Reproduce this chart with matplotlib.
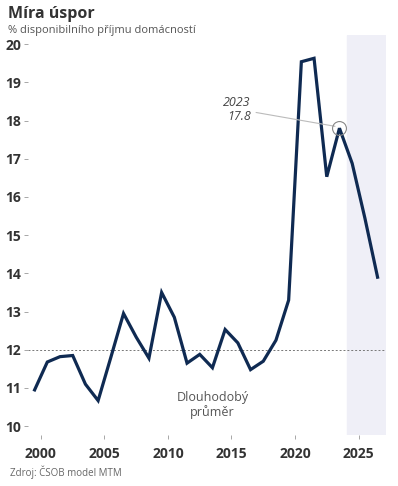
import matplotlib.pyplot as plt

plt.rcParams['font.family'] = ['Open Sans', 'DejaVu Sans']

# roční míra úspor domácností (% disponibilního příjmu)
roky = list(range(1999, 2027))
mira = [10.95, 11.68, 11.82, 11.85, 11.1, 10.67, 11.8, 12.95, 12.33, 11.78,
        13.5, 12.85, 11.65, 11.88, 11.53, 12.53, 12.18, 11.48, 11.7, 12.25,
        13.3, 19.54, 19.63, 16.53, 17.8, 16.88, 15.45, 13.9]
prumer = 12.0
prognoza_od, prognoza_do = 2024, 2027
yticks = [10, 11, 12, 13, 14, 15, 16, 17, 18, 19, 20]
xticks = [2000, 2005, 2010, 2015, 2020, 2025]

fig = plt.figure(figsize=(3.98, 4.86), dpi=100)
ax = fig.add_axes([0.071, 0.105, 0.9, 0.823])

x = [r + 0.5 for r in roky]
ax.axvspan(prognoza_od + 0.1, prognoza_do + 0.1, color='#efeff7', zorder=0)
ax.axhline(prumer, color='#777777', lw=0.7, ls=(0, (2, 2)), zorder=1)
ax.plot(x, mira, color='#0f2a52', lw=2.3, solid_joinstyle='miter', zorder=3)

# zvýraznění roku 2023
i = roky.index(2023)
ax.plot(x[i], mira[i], 'o', ms=10, mfc='none', mec='#888888', mew=0.8, zorder=4)
ax.annotate(f'{roky[i]}\n{mira[i]:.1f}', xy=(x[i] - 0.35, mira[i] + 0.05),
            xytext=(2016.5, 18.3), ha='right', va='center', style='italic',
            fontsize=9, color='#444444', linespacing=1.1,
            arrowprops=dict(arrowstyle='-', color='#bbbbbb', lw=0.8,
                            shrinkA=2, shrinkB=0))

ax.text(2013.5, 10.55, 'Dlouhodobý\nprůměr', ha='center', va='center',
        fontsize=9, color='#555555', linespacing=1.1)

ax.set_xlim(1999, 2027.2)
ax.set_ylim(9.77, 20.24)
ax.set_xticks(xticks)
ax.set_yticks(yticks)
ax.tick_params(axis='y', length=3, width=0.6, color='#999999', pad=2,
               labelsize=10, labelcolor='#333333')
ax.tick_params(axis='x', length=3, width=0.6, color='#999999', pad=6,
               labelsize=10, labelcolor='#333333')
for lab in ax.get_xticklabels() + ax.get_yticklabels():
    lab.set_fontweight('bold')
for s in ax.spines.values():
    s.set_visible(False)

fig.text(0.02, 0.972, 'Míra úspor', fontsize=11.5, fontweight='bold',
         color='#333333', va='center')
fig.text(0.02, 0.938, '% disponibilního příjmu domácností', fontsize=8,
         color='#555555', va='center')
fig.text(0.025, 0.029, 'Zdroj: ČSOB model MTM', fontsize=7, color='#666666',
         va='center')

fig.savefig('out.png', dpi=100)
